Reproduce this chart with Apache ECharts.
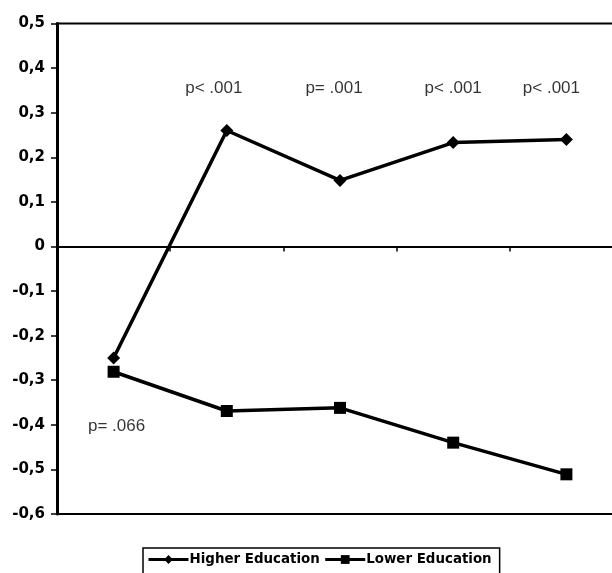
<!DOCTYPE html>
<html>
<head>
<meta charset="utf-8">
<script src="https://cdn.jsdelivr.net/npm/echarts@6/dist/echarts.min.js"></script>
<style>
  html, body { margin: 0; padding: 0; background: #fff; }
  #main { width: 612px; height: 573px; }
</style>
</head>
<body>
<div id="main"></div>
<script>
// data
const categories = ["1", "2", "3", "4", "5"];
const higherEducation = [-0.25, 0.26, 0.148, 0.233, 0.24];
const lowerEducation = [-0.281, -0.369, -0.362, -0.44, -0.511];
const pLabels = ["p= .066", "p< .001", "p= .001", "p< .001", "p< .001"];
const pLabelY = [-0.404, 0.355, 0.355, 0.355, 0.355];
const pLabelShift = [3, -13, -6, 0, -15];

const myChart = echarts.init(document.getElementById("main"));

const option = {
  animation: false,
  grid: {
    left: 57,
    top: 23.5,
    width: 566,
    height: 490.5,
    outerBoundsMode: "none",
    containLabel: false,
    show: true,
    borderColor: "#000",
    borderWidth: 2
  },
  legend: {
    data: ["Higher Education", "Lower Education"],
    left: 143,
    top: 548,
    borderColor: "#000",
    borderWidth: 1.5,
    padding: [5, 8, 8, 4],
    itemWidth: 40,
    itemHeight: 11,
    itemGap: 4,
    lineStyle: { width: 3 },
    textStyle: {
      fontFamily: "DejaVu Sans",
      fontWeight: "bold",
      fontSize: 13.4,
      color: "#000",
      padding: [0, 0, 0, -4]
    }
  },
  xAxis: {
    type: "category",
    data: categories,
    boundaryGap: true,
    axisLine: { onZero: true, lineStyle: { color: "#000", width: 2 } },
    axisTick: { show: true, length: 5, lineStyle: { color: "#000", width: 1.5 } },
    axisLabel: { show: false },
    splitLine: { show: false }
  },
  yAxis: {
    type: "value",
    min: -0.6,
    max: 0.5,
    interval: 0.1,
    axisLine: { show: true, onZero: false, lineStyle: { color: "#000", width: 3 } },
    axisTick: { show: true, length: 6, lineStyle: { color: "#000", width: 1.5 } },
    splitLine: { show: false },
    axisLabel: {
      color: "#000",
      fontFamily: "DejaVu Sans",
      fontWeight: "bold",
      fontSize: 15,
      margin: 12,
      formatter: function (v) {
        if (Math.abs(v) < 1e-9) return "0";
        return v.toFixed(1).replace(".", ",");
      }
    }
  },
  series: [
    {
      name: "Higher Education",
      type: "line",
      data: higherEducation,
      symbol: "diamond",
      symbolSize: 13,
      itemStyle: { color: "#000" },
      lineStyle: { color: "#000", width: 3.5 }
    },
    {
      name: "Lower Education",
      type: "line",
      data: lowerEducation,
      symbol: "rect",
      symbolSize: 12,
      itemStyle: { color: "#000" },
      lineStyle: { color: "#000", width: 3.5 }
    },
    {
      name: "p",
      type: "scatter",
      silent: true,
      symbolSize: 1,
      itemStyle: { color: "rgba(0,0,0,0)" },
      data: pLabels.map(function (t, i) {
        return {
          value: [i, pLabelY[i]],
          label: {
            show: true,
            position: "inside",
            offset: [pLabelShift[i], 0],
            formatter: t,
            color: "#000",
            fontFamily: "Liberation Sans",
            fontSize: 17
          }
        };
      })
    }
  ]
};

myChart.setOption(option);
</script>
</body>
</html>
